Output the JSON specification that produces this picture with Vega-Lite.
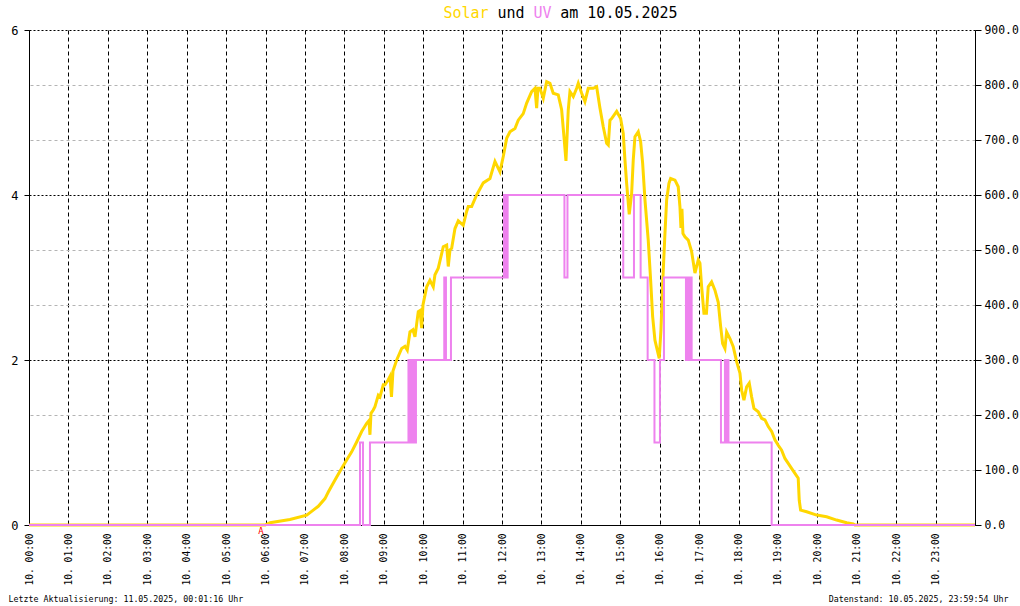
{
  "$schema": "https://vega.github.io/schema/vega-lite/v6.json",
  "width": 946,
  "height": 495,
  "autosize": {"type": "none"},
  "padding": {"left": 29, "top": 30, "right": 45, "bottom": 81},
  "background": "white",
  "config": {
    "view": {"stroke": null},
    "font": "DejaVu Sans Mono",
    "axis": {"labelFont": "DejaVu Sans Mono", "titleFont": "DejaVu Sans Mono", "labelColor": "black", "titleColor": "black"}
  },
  "datasets": {
    "solar": [
      {"h": 0, "w": 0}, {"h": 5.987, "w": 0}, {"h": 6.114, "w": 4}, {"h": 6.621, "w": 10}, {"h": 7.045, "w": 18},
      {"h": 7.212, "w": 27}, {"h": 7.339, "w": 34}, {"h": 7.509, "w": 48}, {"h": 7.593, "w": 60}, {"h": 7.763, "w": 82},
      {"h": 7.933, "w": 103}, {"h": 8.059, "w": 118}, {"h": 8.186, "w": 133}, {"h": 8.313, "w": 151}, {"h": 8.44, "w": 170},
      {"h": 8.567, "w": 185}, {"h": 8.625, "w": 190}, {"h": 8.65, "w": 164}, {"h": 8.676, "w": 203}, {"h": 8.734, "w": 209},
      {"h": 8.777, "w": 215}, {"h": 8.861, "w": 236}, {"h": 8.904, "w": 233}, {"h": 8.988, "w": 255}, {"h": 9.031, "w": 255},
      {"h": 9.115, "w": 264}, {"h": 9.158, "w": 270}, {"h": 9.196, "w": 233}, {"h": 9.234, "w": 280}, {"h": 9.328, "w": 300},
      {"h": 9.455, "w": 321}, {"h": 9.538, "w": 325}, {"h": 9.597, "w": 318}, {"h": 9.665, "w": 351}, {"h": 9.741, "w": 355},
      {"h": 9.792, "w": 342}, {"h": 9.876, "w": 388}, {"h": 9.919, "w": 390}, {"h": 9.962, "w": 358}, {"h": 9.995, "w": 400},
      {"h": 10.089, "w": 433}, {"h": 10.172, "w": 445}, {"h": 10.256, "w": 433}, {"h": 10.299, "w": 455}, {"h": 10.383, "w": 467},
      {"h": 10.51, "w": 506}, {"h": 10.596, "w": 509}, {"h": 10.637, "w": 470}, {"h": 10.68, "w": 500}, {"h": 10.723, "w": 503},
      {"h": 10.807, "w": 539}, {"h": 10.891, "w": 553}, {"h": 11.017, "w": 545}, {"h": 11.103, "w": 570}, {"h": 11.144, "w": 579},
      {"h": 11.23, "w": 579}, {"h": 11.357, "w": 600}, {"h": 11.525, "w": 622}, {"h": 11.695, "w": 630}, {"h": 11.822, "w": 661},
      {"h": 11.948, "w": 642}, {"h": 12.032, "w": 670}, {"h": 12.118, "w": 703}, {"h": 12.202, "w": 715}, {"h": 12.329, "w": 721},
      {"h": 12.412, "w": 736}, {"h": 12.539, "w": 748}, {"h": 12.626, "w": 767}, {"h": 12.752, "w": 788}, {"h": 12.836, "w": 794},
      {"h": 12.879, "w": 758}, {"h": 12.912, "w": 794}, {"h": 12.963, "w": 794}, {"h": 13.047, "w": 776}, {"h": 13.133, "w": 806},
      {"h": 13.217, "w": 803}, {"h": 13.3, "w": 785}, {"h": 13.427, "w": 782}, {"h": 13.513, "w": 755}, {"h": 13.572, "w": 706},
      {"h": 13.623, "w": 662}, {"h": 13.681, "w": 755}, {"h": 13.724, "w": 788}, {"h": 13.808, "w": 779}, {"h": 13.894, "w": 794},
      {"h": 13.935, "w": 803}, {"h": 14.021, "w": 785}, {"h": 14.104, "w": 770}, {"h": 14.188, "w": 794}, {"h": 14.315, "w": 794},
      {"h": 14.401, "w": 797}, {"h": 14.485, "w": 758}, {"h": 14.569, "w": 724}, {"h": 14.655, "w": 694}, {"h": 14.696, "w": 691},
      {"h": 14.739, "w": 736}, {"h": 14.782, "w": 739}, {"h": 14.909, "w": 752}, {"h": 15.01, "w": 739}, {"h": 15.076, "w": 712},
      {"h": 15.119, "w": 664}, {"h": 15.162, "w": 621}, {"h": 15.228, "w": 565}, {"h": 15.289, "w": 603}, {"h": 15.33, "w": 664},
      {"h": 15.373, "w": 706}, {"h": 15.457, "w": 715}, {"h": 15.517, "w": 697}, {"h": 15.568, "w": 658}, {"h": 15.627, "w": 591},
      {"h": 15.71, "w": 518}, {"h": 15.771, "w": 445}, {"h": 15.822, "w": 379}, {"h": 15.88, "w": 336}, {"h": 15.939, "w": 318},
      {"h": 15.989, "w": 303}, {"h": 16.033, "w": 355}, {"h": 16.076, "w": 439}, {"h": 16.134, "w": 530}, {"h": 16.177, "w": 591},
      {"h": 16.235, "w": 621}, {"h": 16.278, "w": 630}, {"h": 16.388, "w": 627}, {"h": 16.471, "w": 615}, {"h": 16.514, "w": 579},
      {"h": 16.54, "w": 540}, {"h": 16.565, "w": 575}, {"h": 16.591, "w": 530}, {"h": 16.641, "w": 524}, {"h": 16.725, "w": 518},
      {"h": 16.811, "w": 497}, {"h": 16.895, "w": 458}, {"h": 16.979, "w": 482}, {"h": 17.022, "w": 476}, {"h": 17.065, "w": 433},
      {"h": 17.123, "w": 385}, {"h": 17.187, "w": 385}, {"h": 17.232, "w": 433}, {"h": 17.318, "w": 442}, {"h": 17.402, "w": 427},
      {"h": 17.486, "w": 405}, {"h": 17.547, "w": 361}, {"h": 17.597, "w": 330}, {"h": 17.656, "w": 321}, {"h": 17.699, "w": 351},
      {"h": 17.783, "w": 339}, {"h": 17.867, "w": 324}, {"h": 17.953, "w": 297}, {"h": 18.037, "w": 276}, {"h": 18.08, "w": 245},
      {"h": 18.138, "w": 227}, {"h": 18.206, "w": 251}, {"h": 18.273, "w": 258}, {"h": 18.333, "w": 233}, {"h": 18.392, "w": 212},
      {"h": 18.501, "w": 206}, {"h": 18.587, "w": 194}, {"h": 18.671, "w": 191}, {"h": 18.755, "w": 179}, {"h": 18.841, "w": 170},
      {"h": 18.924, "w": 155}, {"h": 19.008, "w": 145}, {"h": 19.094, "w": 136}, {"h": 19.178, "w": 121}, {"h": 19.262, "w": 112},
      {"h": 19.346, "w": 103}, {"h": 19.432, "w": 94}, {"h": 19.515, "w": 85}, {"h": 19.541, "w": 45}, {"h": 19.576, "w": 27},
      {"h": 19.729, "w": 24}, {"h": 19.982, "w": 18}, {"h": 20.236, "w": 15}, {"h": 20.489, "w": 9}, {"h": 20.743, "w": 4},
      {"h": 20.911, "w": 2}, {"h": 20.954, "w": 0}, {"h": 24, "w": 0}
    ],
    "uv": [
      {"h": 0, "uv": 0}, {"h": 8.397, "uv": 1}, {"h": 8.473, "uv": 0}, {"h": 8.65, "uv": 1},
      {"h": 9.627, "uv": 2}, {"h": 9.652, "uv": 1}, {"h": 9.678, "uv": 2}, {"h": 9.703, "uv": 1}, {"h": 9.729, "uv": 2},
      {"h": 9.754, "uv": 1}, {"h": 9.779, "uv": 2}, {"h": 9.805, "uv": 1}, {"h": 9.817, "uv": 2},
      {"h": 10.535, "uv": 3}, {"h": 10.578, "uv": 2}, {"h": 10.705, "uv": 3},
      {"h": 12.05, "uv": 4}, {"h": 12.075, "uv": 3}, {"h": 12.1, "uv": 4}, {"h": 12.126, "uv": 3}, {"h": 12.143, "uv": 4},
      {"h": 13.584, "uv": 3}, {"h": 13.661, "uv": 4}, {"h": 15.076, "uv": 3}, {"h": 15.348, "uv": 4}, {"h": 15.517, "uv": 3},
      {"h": 15.695, "uv": 2}, {"h": 15.868, "uv": 1}, {"h": 16.007, "uv": 2}, {"h": 16.109, "uv": 3},
      {"h": 16.667, "uv": 2}, {"h": 16.692, "uv": 3}, {"h": 16.717, "uv": 2}, {"h": 16.743, "uv": 3}, {"h": 16.768, "uv": 2},
      {"h": 16.793, "uv": 3}, {"h": 16.811, "uv": 2}, {"h": 17.555, "uv": 1}, {"h": 17.656, "uv": 2}, {"h": 17.681, "uv": 1},
      {"h": 17.707, "uv": 2}, {"h": 17.745, "uv": 1}, {"h": 18.841, "uv": 0}, {"h": 24, "uv": 0}
    ],
    "sun": [
      {"h": 5.885, "label": "A"}
    ]
  },
  "layer": [
    {
      "data": {"name": "solar"},
      "mark": {"type": "line", "color": "#FFD700", "strokeWidth": 3},
      "encoding": {
        "x": {
          "field": "h", "type": "quantitative",
          "scale": {"domain": [0, 24], "nice": false, "zero": false},
          "axis": {
            "orient": "bottom",
            "values": [0, 1, 2, 3, 4, 5, 6, 7, 8, 9, 10, 11, 12, 13, 14, 15, 16, 17, 18, 19, 20, 21, 22, 23],
            "labelExpr": "'10. ' + (datum.value < 10 ? '0' : '') + datum.value + ':00'",
            "labelAngle": 270,
            "labelFontSize": 9.6,
            "labelPadding": 8,
            "labelFlush": false,
            "labelOverlap": false,
            "labelBound": false,
            "ticks": false,
            "domain": true,
            "domainColor": "black",
            "domainWidth": 1,
            "grid": true,
            "gridColor": "black",
            "gridDash": [4, 3],
            "gridOpacity": 1,
            "title": "Letzte Aktualisierung: 11.05.2025, 00:01:16 Uhr",
            "titleX": -21,
            "titleY": 76,
            "titleAlign": "left",
            "titleBaseline": "alphabetic",
            "titleAnchor": null,
            "titleFontSize": 8.3,
            "titleFontWeight": "normal"
          }
        },
        "y": {
          "field": "w", "type": "quantitative",
          "scale": {"domain": [0, 900], "nice": false},
          "axis": {
            "orient": "right",
            "values": [0, 100, 200, 300, 400, 500, 600, 700, 800, 900],
            "format": ".1f",
            "labelFontSize": 11.4,
            "labelPadding": 3,
            "tickSize": 6,
            "tickColor": "black",
            "domainColor": "black",
            "grid": true,
            "gridDash": [3, 3],
            "gridOpacity": 1,
            "gridColor": {"condition": {"test": "datum.value % 300 == 0", "value": "transparent"}, "value": "#b4b4b4"},
            "title": "Datenstand: 10.05.2025, 23:59:54 Uhr",
            "titleAngle": 0,
            "titleX": 33,
            "titleY": 571,
            "titleAlign": "right",
            "titleBaseline": "alphabetic",
            "titleAnchor": null,
            "titleFontSize": 8.3,
            "titleFontWeight": "normal"
          }
        }
      }
    },
    {
      "layer": [
        {
          "data": {"name": "uv"},
          "mark": {"type": "line", "color": "#EE82EE", "strokeWidth": 2, "interpolate": "step-after"},
          "encoding": {
            "x": {
              "field": "h", "type": "quantitative",
              "scale": {"domain": [0, 24], "nice": false, "zero": false},
              "axis": {
                "orient": "top",
                "values": [11.073, 12.215, 13.014, 14.954],
                "labelExpr": "datum.value < 12 ? 'Solar' : (datum.value < 13 ? 'und' : (datum.value < 14 ? 'UV' : 'am 10.05.2025'))",
                "labelColor": {"condition": [{"test": "datum.value < 12", "value": "#FFD700"}, {"test": "datum.value > 13 && datum.value < 14", "value": "#EE82EE"}], "value": "black"},
                "labelFontSize": 15,
                "labelPadding": 10,
                "labelFlush": false,
                "labelOverlap": false,
                "labelBound": false,
                "ticks": false,
                "domain": false,
                "grid": false,
                "title": null
              }
            },
            "y": {
              "field": "uv", "type": "quantitative",
              "scale": {"domain": [0, 6], "nice": false},
              "axis": {
                "orient": "left",
                "values": [0, 2, 4, 6],
                "format": "d",
                "labelFontSize": 12,
                "labelPadding": 6,
                "tickSize": 5,
                "tickColor": "black",
                "domainColor": "black",
                "grid": true,
                "gridColor": "black",
                "gridDash": [2, 2],
                "gridOpacity": 1,
                "title": null
              }
            }
          }
        },
        {
          "data": {"name": "sun"},
          "mark": {"type": "text", "color": "red", "fontSize": 9, "dy": 6, "baseline": "middle", "font": "DejaVu Sans Mono"},
          "encoding": {
            "x": {"field": "h", "type": "quantitative", "scale": {"domain": [0, 24], "nice": false, "zero": false}},
            "y": {"datum": 0, "type": "quantitative"},
            "text": {"field": "label"}
          }
        }
      ]
    }
  ],
  "resolve": {"scale": {"y": "independent"}, "axis": {"x": "independent", "y": "independent"}}
}
